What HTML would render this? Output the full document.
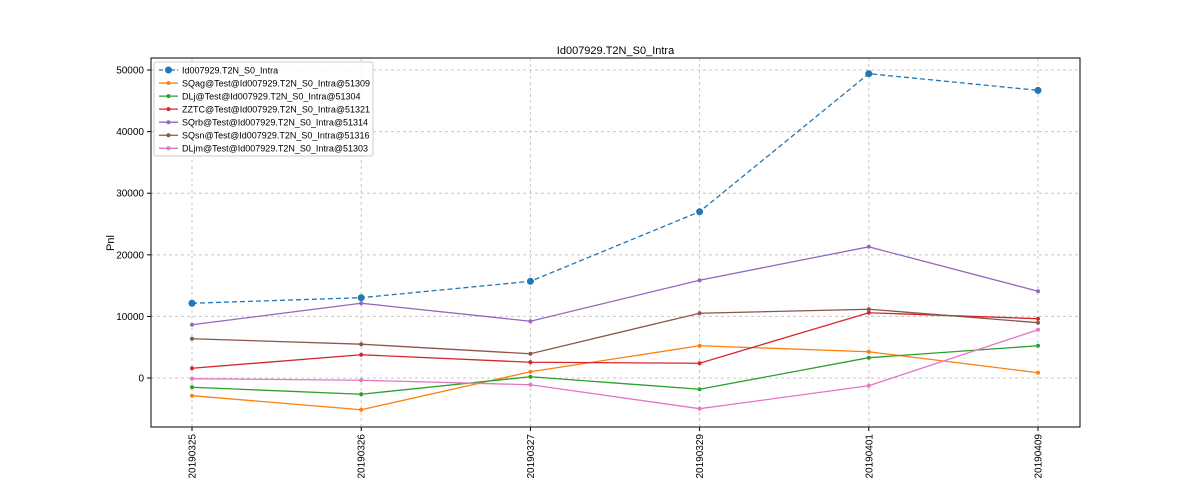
<!DOCTYPE html>
<html><head><meta charset="utf-8"><style>
body{margin:0;background:#fff;font-family:"Liberation Sans","DejaVu Sans",sans-serif}
</style></head><body>
<svg id="chart" width="1200" height="480" xmlns="http://www.w3.org/2000/svg" font-family="Liberation Sans, DejaVu Sans, sans-serif"></svg>
<script>
const categories=["20190325","20190326","20190327","20190329","20190401","20190409"];
const seriesNames=["Id007929.T2N_S0_Intra","SQag@Test@Id007929.T2N_S0_Intra@51309","DLj@Test@Id007929.T2N_S0_Intra@51304","ZZTC@Test@Id007929.T2N_S0_Intra@51321","SQrb@Test@Id007929.T2N_S0_Intra@51314","SQsn@Test@Id007929.T2N_S0_Intra@51316","DLjm@Test@Id007929.T2N_S0_Intra@51303"];
const sMain=[12140,13040,15700,27000,49400,46700];
const sSQag=[-2870,-5150,1020,5240,4270,860];
const sDLj=[-1500,-2630,210,-1820,3300,5240];
const sZZTC=[1590,3780,2560,2400,10600,9630];
const sSQrb=[8650,12140,9220,15880,21300,14090];
const sSQsn=[6380,5490,3940,10520,11170,8980];
const sDLjm=[-110,-360,-1090,-4980,-1250,7840];
const yTicks=[0,10000,20000,30000,40000,50000];
const colors=["#1f77b4","#ff7f0e","#2ca02c","#d62728","#9467bd","#8c564b","#e377c2"];
const allSeries=[sMain,sSQag,sDLj,sZZTC,sSQrb,sSQsn,sDLjm];
const L=151,R=1080,T=58,B=427,yMin=-7950,yMax=51950;
const x=i=>192+i*(1038-192)/(categories.length-1);
const y=v=>B-(v-yMin)/(yMax-yMin)*(B-T);
const svg=document.getElementById('chart');const NS="http://www.w3.org/2000/svg";
function mk(t,a,p){const e=document.createElementNS(NS,t);for(const k in a)e.setAttribute(k,a[k]);(p||svg).appendChild(e);return e;}
// grid
categories.forEach((c,i)=>{const g=mk('line',{x1:x(i),x2:x(i),y1:T,y2:B,stroke:'#c8c8c8','stroke-dasharray':'3,3','stroke-width':1});

const tk=mk('line',{x1:x(i),x2:x(i),y1:B,y2:B+4,stroke:'#000'});
const t=mk('text',{x:0,y:0,'font-size':10,'text-anchor':'end',transform:`translate(${x(i)+3.5},${B+7}) rotate(-90)`});t.textContent=c;
});
yTicks.forEach(v=>{const g=mk('line',{x1:L,x2:R,y1:y(v),y2:y(v),stroke:'#c8c8c8','stroke-dasharray':'3,3'});

const tk=mk('line',{x1:L-4,x2:L,y1:y(v),y2:y(v),stroke:'#000'});
const t=mk('text',{x:L-7,y:y(v)+3.5,'font-size':10,'text-anchor':'end'});t.textContent=v;
});
// series
allSeries.forEach((s,k)=>{const g=mk('g',{});
const pl=mk('polyline',{points:s.map((v,i)=>x(i)+','+y(v)).join(' '),fill:'none',stroke:colors[k],'stroke-width':1.3,'stroke-dasharray':k==0?'5,3':'none'},g);

s.forEach((v,i)=>{const c=mk('circle',{cx:x(i),cy:y(v),r:k==0?3.5:2,fill:colors[k]},g);});});
// axes frame
const fr=mk('rect',{x:L,y:T,width:R-L,height:B-T,fill:'none',stroke:'#000','stroke-width':1});
const ti=mk('text',{x:(L+R)/2,y:54,'font-size':11,'text-anchor':'middle'});ti.textContent="Id007929.T2N_S0_Intra";
const yl=mk('text',{x:0,y:0,'font-size':11,'text-anchor':'middle',transform:'translate(114,243) rotate(-90)'});yl.textContent="Pnl";
// legend
const lg=mk('g',{});
const lr=mk('rect',{x:154,y:62,width:219,height:94,fill:'#fff','fill-opacity':0.8,stroke:'#ccc',rx:2},lg);
seriesNames.forEach((n,k)=>{const yy=70+k*13.05;const e=mk('g',{},lg);
mk('line',{x1:159,x2:178,y1:yy,y2:yy,stroke:colors[k],'stroke-width':1.3,'stroke-dasharray':k==0?'4,2':'none'},e);
mk('circle',{cx:168.5,cy:yy,r:k==0?3.5:2,fill:colors[k]},e);
const t=mk('text',{x:182,y:yy+3.3,'font-size':9},e);t.textContent=n;});
</script>
</body></html>
